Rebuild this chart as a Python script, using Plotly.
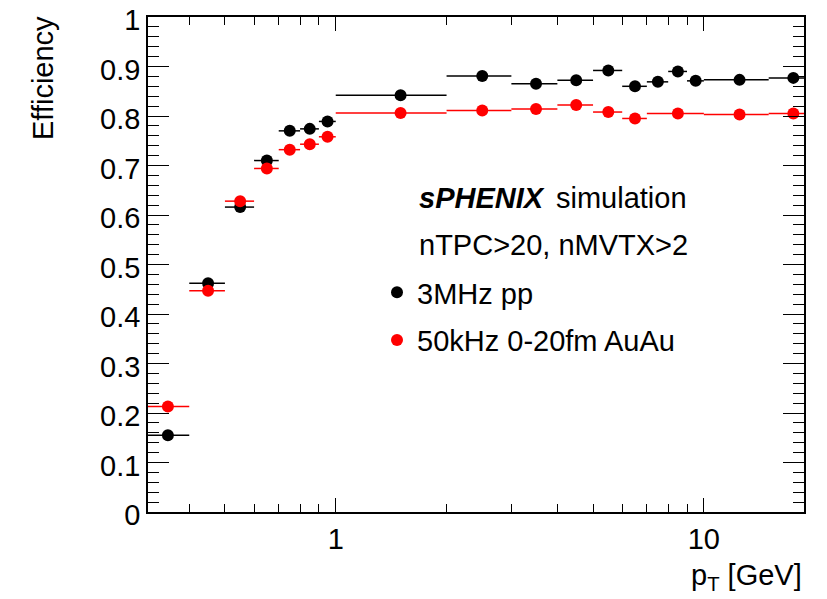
import plotly.graph_objects as go

# ---- data ----
pt_pp = [0.35, 0.45, 0.55, 0.65, 0.75, 0.85, 0.95, 1.5, 2.5, 3.5, 4.5, 5.5, 6.5, 7.5, 8.5, 9.5, 12.5, 17.5]
lo_pp = [0.3, 0.4, 0.5, 0.6, 0.7, 0.8, 0.9, 1, 2, 3, 4, 5, 6, 7, 8, 9, 10, 15]
hi_pp = [0.4, 0.5, 0.6, 0.7, 0.8, 0.9, 1.0, 2, 3, 4, 5, 6, 7, 8, 9, 10, 15, 20]
eff_pp = [0.155, 0.462, 0.616, 0.710, 0.770, 0.774, 0.789, 0.842, 0.881, 0.865,
          0.872, 0.892, 0.860, 0.869, 0.890, 0.871, 0.873, 0.877]

pt_auau = [0.35, 0.45, 0.55, 0.65, 0.75, 0.85, 0.95, 1.5, 2.5, 3.5, 4.5, 5.5, 6.5, 8.5, 12.5, 17.5]
lo_auau = [0.3, 0.4, 0.5, 0.6, 0.7, 0.8, 0.9, 1, 2, 3, 4, 5, 6, 7, 10, 15]
hi_auau = [0.4, 0.5, 0.6, 0.7, 0.8, 0.9, 1.0, 2, 3, 4, 5, 6, 7, 10, 15, 20]
eff_auau = [0.213, 0.447, 0.628, 0.694, 0.732, 0.743, 0.758, 0.806, 0.811, 0.814,
            0.822, 0.808, 0.795, 0.805, 0.803, 0.805]

names = ["3MHz pp", "50kHz 0-20fm AuAu"]
x_major = [1, 10]
x_minor = [0.4, 0.5, 0.6, 0.7, 0.8, 0.9, 2, 3, 4, 5, 6, 7, 8, 9]

FONT = "Liberation Sans, Arial, Helvetica, sans-serif"
FS = 29

fig = go.Figure()


def add_series(x, lo, hi, y, name, color, group):
    fig.add_trace(go.Scatter(
        x=x, y=y, mode="markers", name=name, legendgroup=group,
        marker=dict(color=color, size=12, symbol="circle"),
        error_x=dict(type="data", symmetric=False,
                     array=[h - c for h, c in zip(hi, x)],
                     arrayminus=[c - l for c, l in zip(x, lo)],
                     color=color, thickness=1.5, width=0),
    ))


add_series(pt_pp, lo_pp, hi_pp, eff_pp, names[0], "black", "g0")
add_series(pt_auau, lo_auau, hi_auau, eff_auau, names[1], "#ff0000", "g1")

# the page body has an 8px margin: size the figure so it fills the window
OFF = 8
W, H = 827 - OFF, 599 - OFF
L, R, T, B = 140, 23, 9, 87
pw, ph = W - L - R, H - T - B


def px(xw):
    return (xw - OFF - L) / pw


def py(yw):
    return (H - B - (yw - OFF)) / ph


fig.update_layout(
    width=W, height=H, autosize=False,
    margin=dict(l=L, r=R, t=T, b=B, pad=0, autoexpand=False),
    paper_bgcolor="white", plot_bgcolor="white",
    font=dict(family=FONT, size=FS, color="black"),
    showlegend=True,
    legend=dict(x=px(377), y=py(267), xanchor="left", yanchor="top",
                bgcolor="rgba(0,0,0,0)", borderwidth=0,
                font=dict(family=FONT, size=FS), itemsizing="trace",
                traceorder="grouped", tracegroupgap=7),
    xaxis=dict(type="log", range=[-0.510, 1.272], automargin=False,
               tickmode="array", tickvals=x_major, ticktext=["1", "10"],
               ticks="inside", ticklen=14, tickwidth=1, tickcolor="black",
               showline=True, linecolor="black", linewidth=1.5, mirror="allticks",
               showgrid=False, zeroline=False, ticklabeloverflow="allow",
               tickfont=dict(family=FONT, size=FS),
               minor=dict(tickmode="array", tickvals=x_minor, ticks="inside",
                          ticklen=8, tickwidth=1, tickcolor="black", showgrid=False)),
    yaxis=dict(range=[0, 1], dtick=0.1, tick0=0, automargin=False,
               ticks="inside", ticklen=21, tickwidth=1, tickcolor="black",
               showline=True, linecolor="black", linewidth=1.5, mirror="allticks",
               showgrid=False, zeroline=False, ticklabeloverflow="allow",
               ticklabelshift=3,
               tickfont=dict(family=FONT, size=FS),
               minor=dict(dtick=0.02, tick0=0, ticks="inside", ticklen=11,
                          tickwidth=1, tickcolor="black", showgrid=False)),
)

annotations = [
    dict(text="Efficiency", textangle=-90, x=px(43), y=py(14),
         xanchor="center", yanchor="top"),
    dict(text="p<sub>T</sub> [GeV]", x=px(804), y=py(597),
         xanchor="right", yanchor="bottom"),
    dict(text="<b><i>sPHENIX</i></b> \u2006simulation", x=px(417), y=py(198),
         xanchor="left", yanchor="middle"),
    dict(text="nTPC>20, nMVTX>2", x=px(417), y=py(245),
         xanchor="left", yanchor="middle"),
]
for a in annotations:
    fig.add_annotation(xref="paper", yref="paper", showarrow=False,
                       font=dict(family=FONT, size=FS, color="black"), **a)

fig.write_html("out.html")
